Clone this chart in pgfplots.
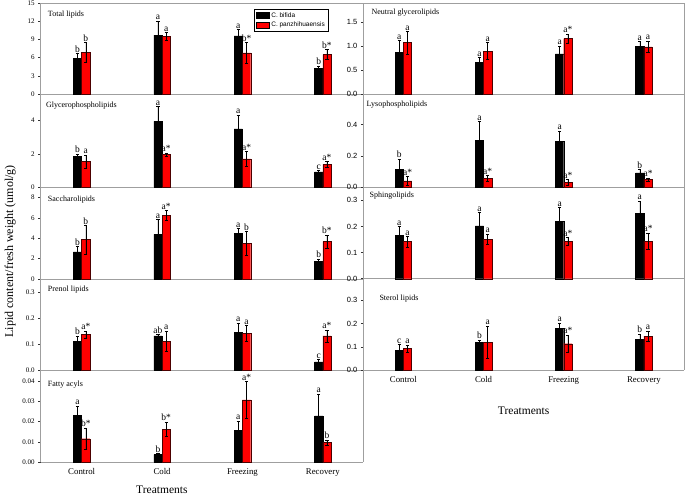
\documentclass[border=0pt]{standalone}
\usepackage{pgfplots}
\pgfplotsset{compat=1.18}
\usepackage{pgfplotstable}
\usepackage{fontspec}
\setmainfont{Liberation Serif}
\setsansfont{Liberation Sans}

\pgfplotstableread{
x b be r re lb lr
0 5.89 0.80 6.87 1.65 b b
1 9.71 2.35 9.49 0.66 a a
2 9.60 1.00 6.77 1.73 a b*
3 4.20 0.38 6.50 0.80 b b*
}\total
\pgfplotstableread{
x b be r re lb lr
0 1.85 0.15 1.53 0.40 b a
1 3.96 0.90 1.95 0.10 a a*
2 3.50 0.84 1.69 0.46 a a*
3 0.92 0.08 1.37 0.18 c a*
}\glyc
\pgfplotstableread{
x b be r re lb lr
0 2.66 0.52 3.87 1.41 b b
1 4.39 1.48 6.23 0.49 a a*
2 4.49 0.46 3.51 1.18 a b
3 1.74 0.23 3.67 0.63 b b*
}\sacc
\pgfplotstableread{
x b be r re lb lr
0 0.110 0.022 0.137 0.013 b a*
1 0.132 0.006 0.112 0.039 ab a
2 0.147 0.035 0.142 0.031 a a
3 0.032 0.010 0.132 0.023 c a*
}\prenol
\pgfplotstableread{
x b be r re lb lr
0 0.0230 0.0047 0.0116 0.0054 a b*
1 0.0038 0.0006 0.0162 0.0036 b b*
2 0.0159 0.0044 0.0308 0.0089 a a*
3 0.0228 0.0108 0.0097 0.0013 a b
}\fatty
\pgfplotstableread{
x b be r re lb lr
0 0.875 0.245 1.076 0.234 a a
1 0.667 0.100 0.900 0.180 a a
2 0.840 0.160 1.160 0.100 a a*
3 1.000 0.100 0.986 0.118 a a
}\neutral
\pgfplotstableread{
x b be r re lb lr
0 0.113 0.065 0.039 0.029 b a*
1 0.300 0.120 0.056 0.019 a a*
2 0.293 0.067 0.030 0.017 a a*
3 0.090 0.021 0.049 0.009 b a*
}\lyso
\pgfplotstableread{
x b be r re lb lr
0 0.165 0.035 0.142 0.020 a a
1 0.202 0.052 0.151 0.019 a a
2 0.220 0.053 0.143 0.014 a a*
3 0.249 0.049 0.143 0.031 a a*
}\sphingo
\pgfplotstableread{
x b be r re lb lr
0 0.087 0.024 0.094 0.015 c a
1 0.119 0.011 0.121 0.069 b a
2 0.179 0.025 0.114 0.037 a a*
3 0.134 0.022 0.147 0.022 b a
}\sterol

\pgfplotsset{
  panel/.style={scale only axis, axis lines=left,
    axis line style={-, gray!75, line width=0.6pt},
    xtick={0,1,2,3}, xticklabels={}, xtick style={draw=none},
    ytick style={black!80, line width=0.5pt}, tick align=outside,
    major tick length=2.5pt, ymin=0, clip=false, scaled y ticks=false,
    /pgf/number format/assume math mode=true,
    every axis title shift=0pt,
    title style={anchor=west, yshift=0pt, font=\fontsize{8}{9}\selectfont, inner sep=0pt},
    xticklabel style={font=\fontsize{8.8}{10}\selectfont},
  },
  leftp/.style={panel, width=322.3pt, xmin=-0.51, xmax=3.5,
    yticklabel style={font=\fontsize{7}{8}\selectfont}},
  rightp/.style={panel, width=320.7pt, xmin=-0.5, xmax=3.5,
    yticklabel style={font=\sffamily\fontsize{7.5}{8}\selectfont}},
  one/.style={yticklabel style={/pgf/number format/fixed, /pgf/number format/fixed zerofill, /pgf/number format/precision=1}},
  two/.style={yticklabel style={/pgf/number format/fixed, /pgf/number format/fixed zerofill, /pgf/number format/precision=2}},
  ebar/.style={error bars/.cd, y dir=both, y explicit,
    error bar style={black, line width=0.5pt},
    error mark options={rotate=90, mark size=1.6pt, black, line width=0.5pt}},
  lab/.style={draw=none, mark=none, forget plot, nodes near coords,
    point meta=explicit symbolic,
    nodes near coords style={font=\fontsize{9.5}{10}\selectfont, anchor=south, inner sep=1pt}},
}

\newcommand{\bars}[1]{%
  \addplot[ybar, bar width=0.103, bar shift=0, fill=black, draw=black, ebar]
    table[x expr=\thisrow{x}-0.0515, y=b, y error=be] {#1};
  \addplot[ybar, bar width=0.103, bar shift=0, fill=red, draw=black!70!red, ebar]
    table[x expr=\thisrow{x}+0.0515, y=r, y error=re] {#1};
  \addplot[lab] table[x expr=\thisrow{x}-0.0515, y expr=\thisrow{b}+\thisrow{be}, meta=lb] {#1};
  \addplot[lab] table[x expr=\thisrow{x}+0.0515, y expr=\thisrow{r}+\thisrow{re}, meta=lr] {#1};
}

\begin{document}
\begin{tikzpicture}
\path[use as bounding box] (0pt,0pt) rectangle (685pt,-495pt);

% ---------- left column ----------
\begin{axis}[leftp, at={(40.7pt,-94pt)}, anchor=south west, height=91pt,
  ymax=15, ytick={0,3,6,9,12,15},
  title={Total lipids}, title style={at={(0.022,0.87)}},
  legend style={at={(0.662,0.934)}, anchor=north west, draw=black, line width=0.5pt,
    font=\sffamily\fontsize{6.5}{7.5}\selectfont, row sep=-1pt, inner sep=1.5pt},
  legend cell align=left,
  legend image code/.code={\draw[#1, draw=black] (0pt,-2.8pt) rectangle (13pt,3.2pt);}]
\bars{\total}
\legend{C. bifida, C. panzhihuaensis}
\end{axis}

\begin{axis}[leftp, at={(40.7pt,-187pt)}, anchor=south west, height=93pt,
  ymax=5.61, ytick={0,2,4},
  title={Glycerophospholipids}, title style={at={(0.016,0.874)}}]
\bars{\glyc}
\end{axis}

\begin{axis}[leftp, at={(40.7pt,-279pt)}, anchor=south west, height=92pt,
  ymax=9.05, ytick={0,2,4,6,8},
  title={Saccharolipids}, title style={at={(0.022,0.86)}},
  ylabel={Lipid content/fresh weight (umol/g)},
  ylabel style={at={(rel axis cs:-0.095,0.30)}, anchor=center, font=\fontsize{12}{14}\selectfont}]
\bars{\sacc}
\end{axis}

\begin{axis}[leftp, one, at={(40.7pt,-370.3pt)}, anchor=south west, height=91.3pt,
  ymax=0.351, ytick={0,0.1,0.2,0.3},
  title={Prenol lipids}, title style={at={(0.022,0.88)}}]
\bars{\prenol}
\end{axis}

\begin{axis}[leftp, two, at={(40.7pt,-462.3pt)}, anchor=south west, height=92pt,
  ymax=0.0453, ytick={0,0.01,0.02,0.03,0.04},
  title={Fatty acyls}, title style={at={(0.022,0.84)}},
  xticklabels={Control,Cold,Freezing,Recovery},
  xlabel={Treatments},
  xlabel style={at={(rel axis cs:0.376,0)}, anchor=center, yshift=-27pt, font=\fontsize{11.5}{13}\selectfont}]
\bars{\fatty}
\end{axis}

% ---------- right column ----------
\begin{axis}[rightp, one, at={(363.3pt,-94.3pt)}, anchor=south west, height=91.3pt,
  ymax=1.9, ytick={0,0.5,1.0,1.5},
  title={Neutral glycerolipids}, title style={at={(0.025,0.89)}}]
\bars{\neutral}
\end{axis}

\begin{axis}[rightp, one, at={(363.3pt,-187pt)}, anchor=south west, height=92.7pt,
  ymax=0.595, ytick={0,0.2,0.4},
  title={Lysophospholipids}, title style={at={(0.01,0.89)}}]
\bars{\lyso}
\end{axis}

\begin{axis}[rightp, one, at={(363.3pt,-278.7pt)}, anchor=south west, height=91.7pt,
  ymax=0.351, ytick={0,0.1,0.2,0.3},
  title={Sphingolipids}, title style={at={(0.019,0.905)}}]
\bars{\sphingo}
\end{axis}

\begin{axis}[rightp, one, at={(363.3pt,-370.3pt)}, anchor=south west, height=91.6pt,
  ymax=0.393, ytick={0,0.1,0.2,0.3},
  title={Sterol lipids}, title style={at={(0.05,0.78)}},
  xticklabels={Control,Cold,Freezing,Recovery},
  xlabel={Treatments},
  xlabel style={at={(rel axis cs:0.5,0)}, anchor=center, yshift=-40pt, font=\fontsize{11.5}{13}\selectfont}]
\bars{\sterol}
\end{axis}

\draw[gray!75, line width=0.6pt] (40.7pt,-3pt) -- (684pt,-3pt) -- (684pt,-370.3pt);
\draw[gray!75, line width=0.6pt] (363.3pt,-370.3pt) -- (363.3pt,-462.3pt);
\end{tikzpicture}
\end{document}
